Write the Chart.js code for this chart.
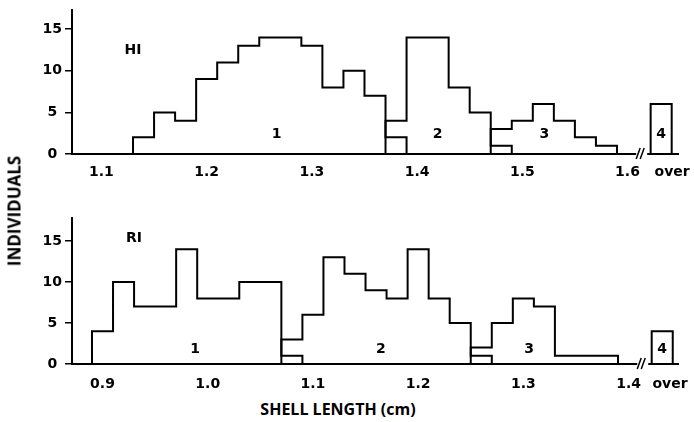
<!DOCTYPE html>
<html>
<head>
<meta charset="utf-8">
<script src="https://cdn.jsdelivr.net/npm/chart.js@4.4.1/dist/chart.umd.min.js"></script>
<style>
  html, body { margin: 0; padding: 0; background: #fff; }
  #wrap { position: relative; width: 694px; height: 422px; overflow: hidden; }
  canvas { position: absolute; left: 0; }
  .title { position: absolute; font-family: "Open Sans", sans-serif; font-weight: 700; color: #000; white-space: nowrap; }
  #ytitle { left: 14px; top: 211px; font-size: 17px; transform: translate(-50%, -50%) rotate(-90deg); }
  #xtitle { left: 338px; top: 409px; font-size: 16px; transform: translate(-50%, -50%); }
</style>
</head>
<body>
<div id="wrap">
  <canvas id="hiChart" width="694" height="180" style="top:0"></canvas>
  <canvas id="riChart" width="694" height="214" style="top:180px"></canvas>
  <div class="title" id="ytitle">INDIVIDUALS</div>
  <div class="title" id="xtitle">SHELL LENGTH (cm)</div>
</div>
<script>
// bin width in cm, lower edge of the first bin of each cohort
const binWidth = 0.02;

// HI
const hiStarts = [1.13, 1.37, 1.47];
const hiCohort1 = [2, 5, 4, 9, 11, 13, 14, 14, 13, 8, 10, 7, 2];
const hiCohort2 = [4, 14, 14, 8, 5, 1];
const hiCohort3 = [3, 4, 6, 4, 2, 1];
const hiOver = 6;
const hiTicks = [1.1, 1.2, 1.3, 1.4, 1.5, 1.6];

// RI
const riStarts = [0.89, 1.07, 1.25];
const riCohort1 = [4, 10, 7, 7, 14, 8, 8, 10, 10, 1];
const riCohort2 = [3, 6, 13, 11, 9, 8, 14, 8, 5, 1];
const riCohort3 = [2, 5, 8, 7, 1, 1, 1];
const riOver = 4;
const riTicks = [0.9, 1.0, 1.1, 1.2, 1.3, 1.4];

const cohortNames = ["1", "2", "3", "4"];
const overLabel = "over";

const tickFont = { family: "DejaVu Sans", size: 14, weight: "bold" };

function stepPoints(start, values) {
    const pts = [{ x: start, y: 0 }];
    values.forEach((v, i) => pts.push({ x: start + i * binWidth, y: v }));
    pts.push({ x: start + values.length * binWidth, y: 0 });
    return pts;
}

// mean bin centre, used to place the cohort number
function meanX(start, values) {
    let s = 0, n = 0;
    values.forEach((v, i) => { s += v * (start + (i + 0.5) * binWidth); n += v; });
    return s / n;
}

const panelText = {
    id: "panelText",
    afterDraw(chart) {
        const p = chart.options.plugins.panelText;
        const ctx = chart.ctx;
        const xs = chart.scales.x, ys = chart.scales.y;
        ctx.save();
        // axis break
        const bx = xs.getPixelForValue(p.breakAt), by = ys.getPixelForValue(0);
        ctx.fillStyle = "#fff";
        ctx.fillRect(bx - 5, by - 2, 11, 4);
        ctx.strokeStyle = "#000";
        ctx.lineWidth = 1.5;
        ctx.beginPath();
        ctx.moveTo(bx - 5, by + 5); ctx.lineTo(bx - 1, by - 6);
        ctx.moveTo(bx - 1, by + 5); ctx.lineTo(bx + 3, by - 6);
        ctx.stroke();
        // labels
        ctx.fillStyle = "#000";
        ctx.font = "bold 14px 'DejaVu Sans'";
        ctx.textAlign = "center";
        ctx.textBaseline = "middle";
        ctx.fillText(p.name, xs.getPixelForValue(p.nameAt[0]), ys.getPixelForValue(p.nameAt[1]));
        p.cohortX.forEach((x, i) => {
            ctx.fillText(cohortNames[i], xs.getPixelForValue(x), ys.getPixelForValue(p.labelY));
        });
        ctx.restore();
    }
};

function makePanel(id, cfg) {
    const sets = cfg.cohorts.map((vals, i) => stepPoints(cfg.starts[i], vals));
    sets.push(stepPoints(cfg.overLeft, [cfg.over]));
    const cohortX = cfg.cohorts.map((vals, i) => meanX(cfg.starts[i], vals));
    cohortX.push(cfg.overLeft + binWidth / 2);

    new Chart(document.getElementById(id).getContext("2d"), {
        type: "line",
        data: {
            datasets: sets.map(d => ({
                data: d,
                borderColor: "#000",
                borderWidth: 2,
                stepped: "before",
                pointRadius: 0,
                fill: false
            }))
        },
        options: {
            responsive: false,
            animation: false,
            layout: { padding: { top: cfg.top, right: 16, left: 0, bottom: 0 } },
            plugins: {
                legend: { display: false },
                tooltip: { enabled: false },
                panelText: {
                    name: cfg.name,
                    nameAt: cfg.nameAt,
                    labelY: cfg.labelY,
                    cohortX: cohortX,
                    breakAt: cfg.overLeft - 0.009
                }
            },
            scales: {
                x: {
                    type: "linear",
                    min: cfg.min,
                    max: cfg.max,
                    afterBuildTicks: a => { a.ticks = cfg.ticks.concat([cfg.overTick]).map(v => ({ value: v })); },
                    afterFit: s => { s.height = cfg.axisH; s.paddingLeft = 0; s.paddingRight = 0; },
                    ticks: {
                        color: "#000",
                        font: tickFont,
                        padding: cfg.tickPad,
                        maxRotation: 0,
                        autoSkip: false,
                        callback: v => (v === cfg.overTick ? overLabel : v.toFixed(1))
                    },
                    grid: { display: false, drawTicks: false },
                    border: { color: "#000", width: 2 }
                },
                y: {
                    min: 0,
                    max: cfg.ymax,
                    afterFit: s => { s.width = 72; s.paddingTop = 0; s.paddingBottom = 0; },
                    ticks: {
                        stepSize: 5,
                        includeBounds: false,
                        color: "#000",
                        font: tickFont,
                        padding: 3,
                        crossAlign: "center"
                    },
                    grid: { drawOnChartArea: false, color: "#000", lineWidth: 1.5, tickLength: 7 },
                    border: { color: "#000", width: 2 }
                }
            }
        },
        plugins: [panelText]
    });
}

makePanel("hiChart", {
    name: "HI", nameAt: [1.13, 12.5], labelY: 2.4,
    starts: hiStarts, cohorts: [hiCohort1, hiCohort2, hiCohort3], over: hiOver,
    ticks: hiTicks, overLeft: 1.622, overTick: 1.6424,
    min: 1.072, max: 1.648, ymax: 17.3, top: 10, axisH: 26, tickPad: 10
});

makePanel("riChart", {
    name: "RI", nameAt: [0.93, 15.3], labelY: 1.8,
    starts: riStarts, cohorts: [riCohort1, riCohort2, riCohort3], over: riOver,
    ticks: riTicks, overLeft: 1.422, overTick: 1.4394,
    min: 0.871, max: 1.447, ymax: 17.8, top: 38, axisH: 30, tickPad: 12
});
</script>
</body>
</html>
